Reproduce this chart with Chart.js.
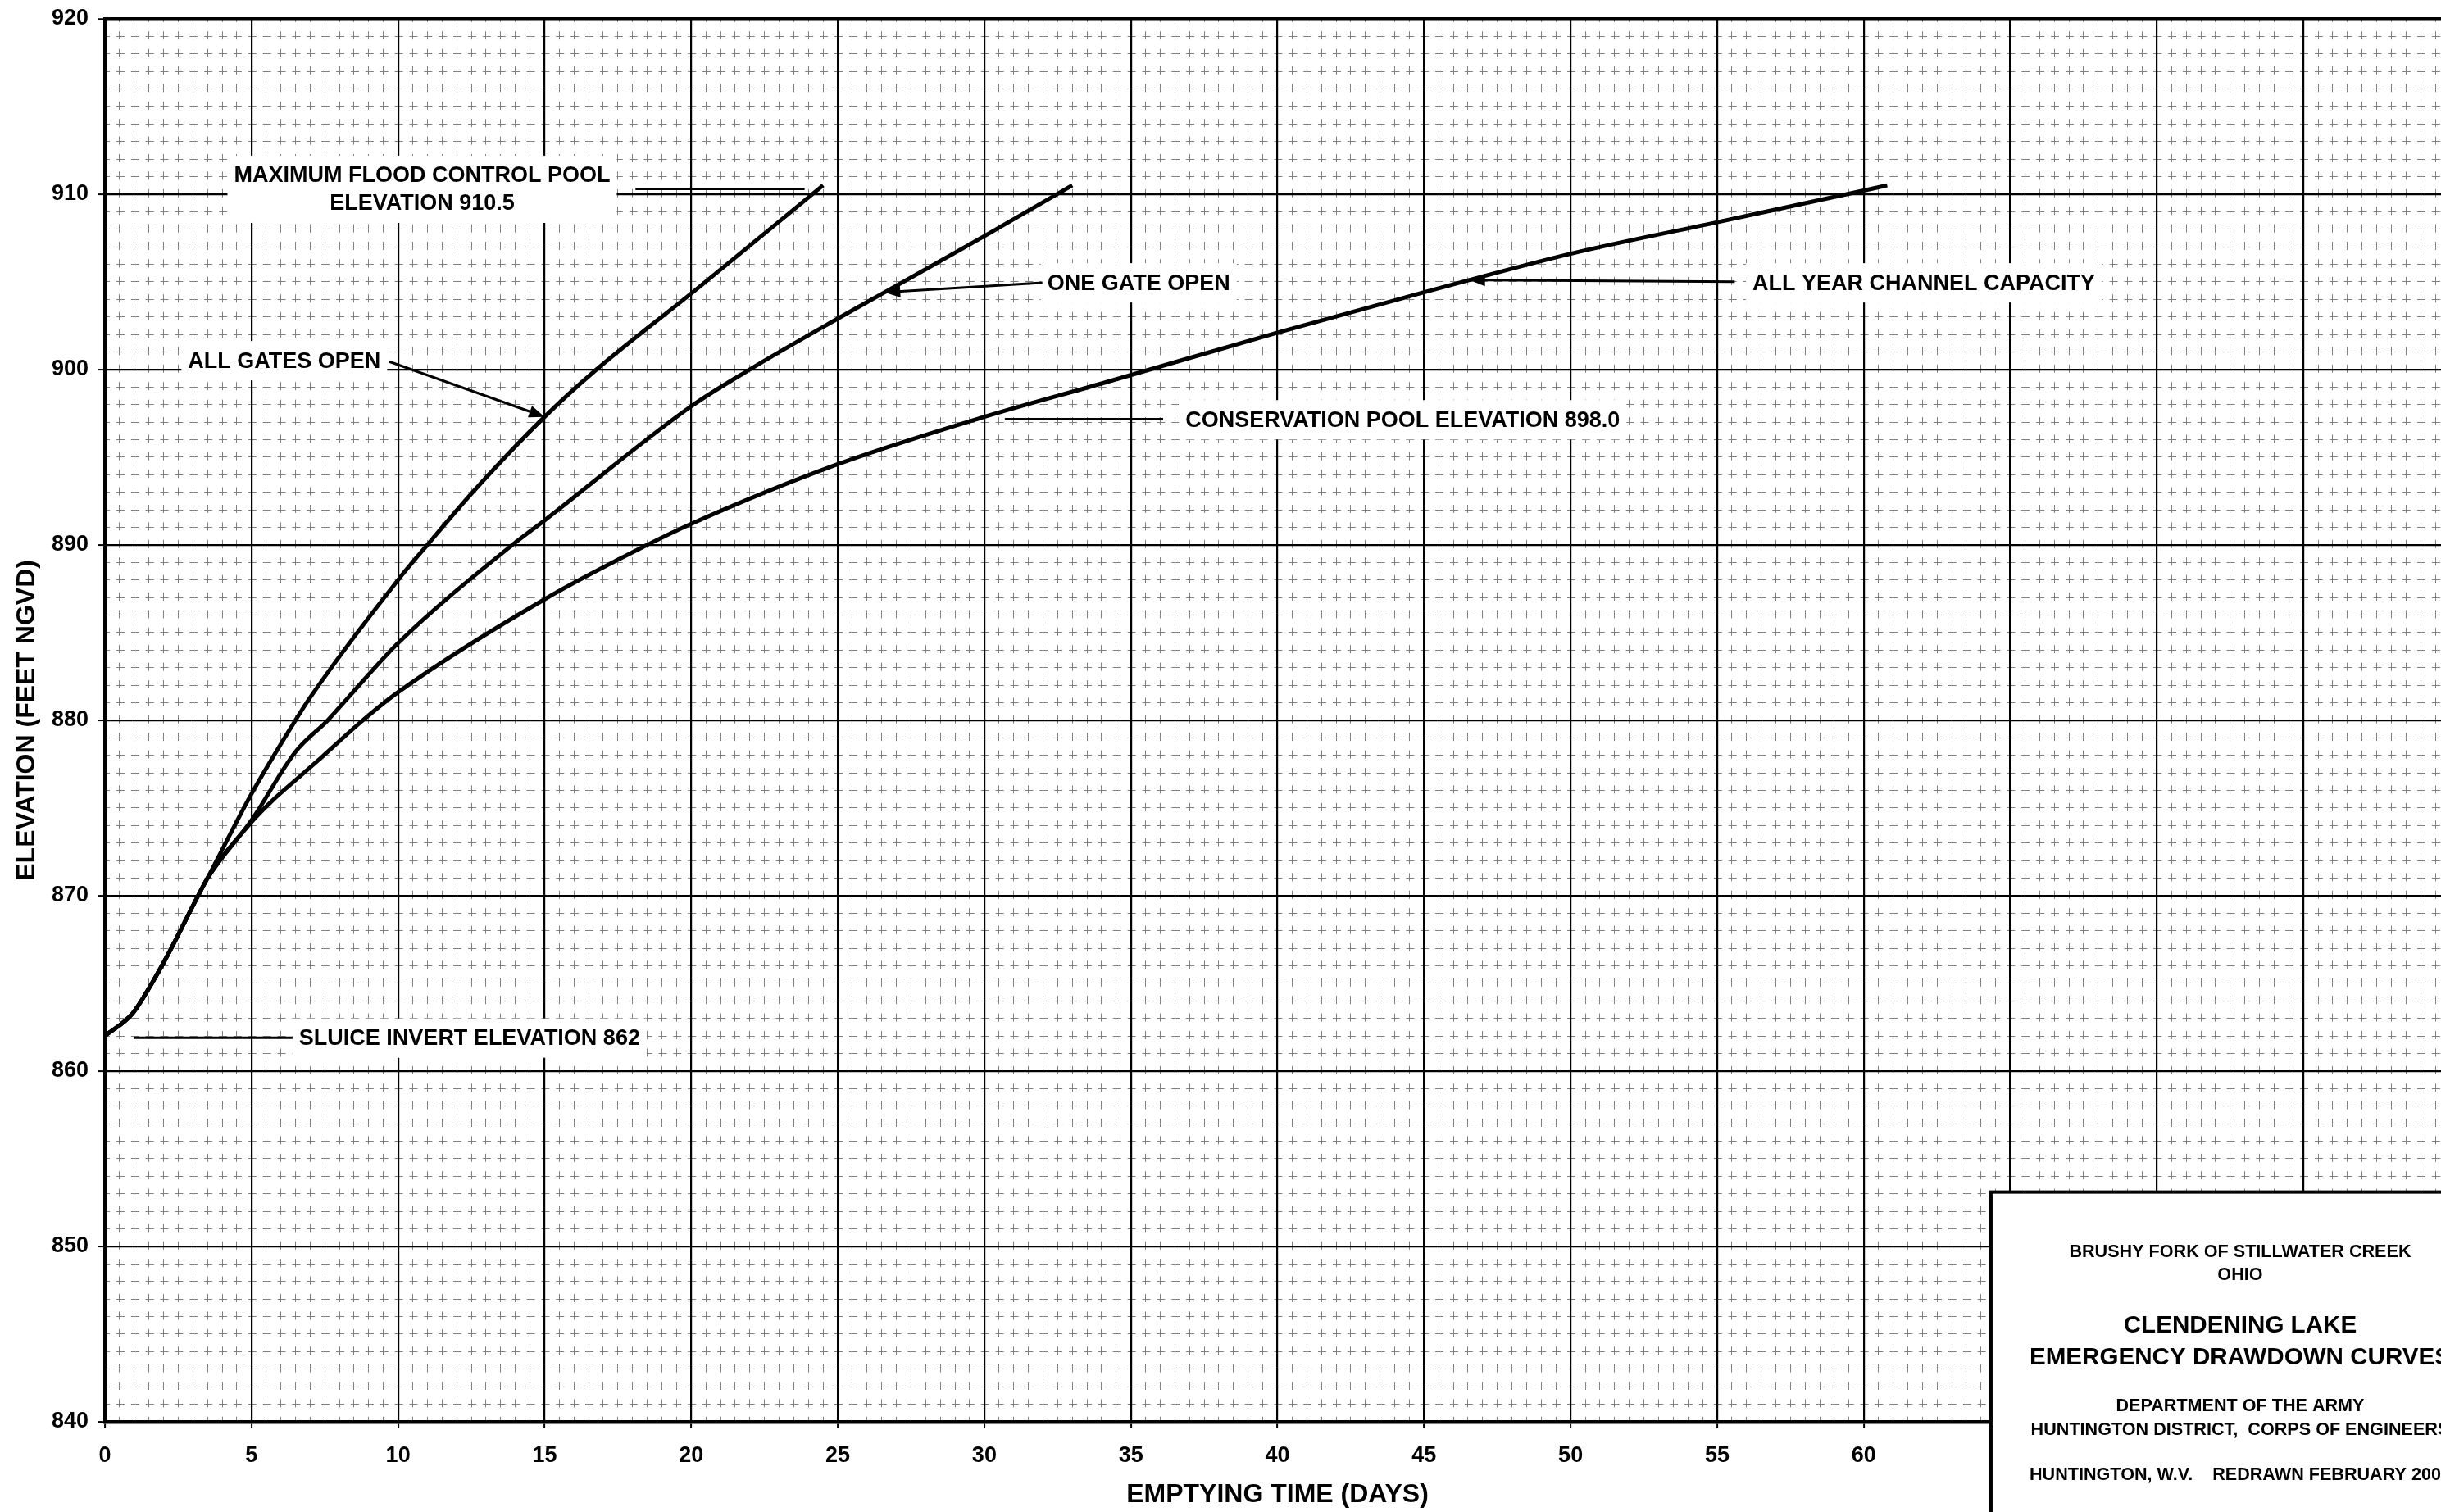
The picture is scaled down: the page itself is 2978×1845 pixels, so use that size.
<!DOCTYPE html>
<html>
<head>
<meta charset="utf-8">
<title>Clendening Lake - Emergency Drawdown Curves</title>
<script src="https://cdn.jsdelivr.net/npm/chart.js@4.4.0/dist/chart.umd.min.js"></script>
<style>
  html, body { margin: 0; padding: 0; background: #fff; overflow: hidden; }
  canvas { display: block; }
</style>
</head>
<body>
<canvas id="drawdown" width="3040" height="1845"></canvas>
<script>
// curves: emptying time (days) vs elevation (feet NGVD)
var allGatesDays = [0, 0.95, 1.6, 2.17, 3.18, 3.5, 5, 6.5, 7, 10, 11, 12.6, 15, 16.7, 20.2, 24.5];
var allGatesElev = [862, 863.3, 865, 866.7, 870, 871, 875.8, 880, 881.3, 888, 890, 893.1, 897.3, 899.9, 904.6, 910.5];

var oneGateDays = [0, 0.95, 1.6, 2.17, 3.18, 3.5, 5, 6.5, 7.6, 8.3, 10, 13.9, 15, 20, 22, 25, 26.6, 30, 33];
var oneGateElev = [862, 863.3, 865, 866.7, 870, 871, 874.3, 878.2, 880, 881.3, 884.4, 890, 891.4, 897.9, 900, 902.9, 904.4, 907.6, 910.5];

var channelDays = [0, 0.95, 1.6, 2.17, 3.18, 3.5, 5, 5.7, 6.65, 7.4, 8.8, 10, 15, 18.5, 20, 25, 30, 34, 40, 45, 50, 55, 60, 60.8];
var channelElev = [862, 863.3, 865, 866.7, 870, 871, 874.2, 875.4, 876.8, 877.9, 880, 881.6, 886.9, 890, 891.2, 894.6, 897.3, 899.2, 902.1, 904.4, 906.6, 908.4, 910.2, 910.5];

// axis ranges
var dayRange = [0, 80];
var elevRange = [840, 920];

// labels on the sheet (anchored in days / feet)
var callouts = [
  { lines: ["MAXIMUM FLOOD CONTROL POOL", "ELEVATION 910.5"], day: 10.82, elev: [911.07, 909.48] },
  { lines: ["ALL GATES OPEN"], day: 6.12, elev: [900.5] },
  { lines: ["ONE GATE OPEN"], day: 35.27, elev: [904.94] },
  { lines: ["ALL YEAR CHANNEL CAPACITY"], day: 62.05, elev: [904.94] },
  { lines: ["CONSERVATION POOL ELEVATION 898.0"], day: 44.27, elev: [897.13] },
  { lines: ["SLUICE INVERT ELEVATION 862"], day: 12.44, elev: [861.88] }
];
var leaders = [
  { from: [18.1, 910.3], to: [23.87, 910.3], arrow: false },
  { from: [9.7, 900.45], to: [15, 897.3], arrow: true },
  { from: [31.98, 904.94], to: [26.6, 904.4], arrow: true },
  { from: [55.6, 905.0], to: [46.55, 905.1], arrow: true },
  { from: [30.7, 897.17], to: [36.1, 897.17], arrow: false },
  { from: [0.98, 861.9], to: [6.4, 861.9], arrow: false }
];
var titleLines = [
  { text: "BRUSHY FORK OF STILLWATER CREEK", size: 21.6, dy: 73 },
  { text: "OHIO", size: 21.6, dy: 101 },
  { text: "CLENDENING LAKE", size: 29.6, dy: 163 },
  { text: "EMERGENCY DRAWDOWN CURVES", size: 29.6, dy: 202 },
  { text: "DEPARTMENT OF THE ARMY", size: 21.6, dy: 261 },
  { text: "HUNTINGTON DISTRICT,  CORPS OF ENGINEERS", size: 21.6, dy: 290 },
  { text: "HUNTINGTON, W.V.    REDRAWN FEBRUARY 2002", size: 21.6, dy: 345 }
];
var titleCorner = [64.34, 853.1];

var FONT = '"Liberation Sans", Arial, Helvetica, sans-serif';

function toPoints(days, elev) {
  return days.map(function (d, i) { return { x: d, y: elev[i] }; });
}

function curve(label, days, elev) {
  return {
    label: label,
    data: toPoints(days, elev),
    borderColor: "#000",
    borderWidth: 5,
    pointRadius: 0,
    fill: false,
    cubicInterpolationMode: "monotone"
  };
}

var calloutPlugin = {
  id: "callouts",
  beforeDatasetsDraw: function (chart) {
    var ctx = chart.ctx;
    var xs = chart.scales.x, ys = chart.scales.y;
    ctx.save();
    ctx.font = "bold 27px " + FONT;
    ctx.textAlign = "center";
    ctx.textBaseline = "middle";
    callouts.forEach(function (c) {
      var cx = xs.getPixelForValue(c.day);
      var py = c.elev.map(function (e) { return ys.getPixelForValue(e); });
      var w = 0;
      c.lines.forEach(function (t) { w = Math.max(w, ctx.measureText(t).width); });
      ctx.fillStyle = "#fff";
      ctx.fillRect(cx - w / 2 - 8, py[0] - 24, w + 16, py[py.length - 1] - py[0] + 48);
      ctx.fillStyle = "#000";
      c.lines.forEach(function (t, i) { ctx.fillText(t, cx, py[i] + 1); });
    });

    ctx.strokeStyle = "#000";
    ctx.fillStyle = "#000";
    ctx.lineWidth = 3;
    leaders.forEach(function (l) {
      var x1 = xs.getPixelForValue(l.from[0]), y1 = ys.getPixelForValue(l.from[1]);
      var x2 = xs.getPixelForValue(l.to[0]), y2 = ys.getPixelForValue(l.to[1]);
      var a = Math.atan2(y2 - y1, x2 - x1);
      var len = l.arrow ? 16 : 0;
      ctx.beginPath();
      ctx.moveTo(x1, y1);
      ctx.lineTo(x2 - len * Math.cos(a), y2 - len * Math.sin(a));
      ctx.stroke();
      if (l.arrow) {
        ctx.beginPath();
        ctx.moveTo(x2, y2);
        ctx.lineTo(x2 - 19 * Math.cos(a) + 7.5 * Math.sin(a), y2 - 19 * Math.sin(a) - 7.5 * Math.cos(a));
        ctx.lineTo(x2 - 19 * Math.cos(a) - 7.5 * Math.sin(a), y2 - 19 * Math.sin(a) + 7.5 * Math.cos(a));
        ctx.closePath();
        ctx.fill();
      }
    });
    ctx.restore();
  },
  afterDraw: function (chart) {
    // title block in the lower right corner
    var ctx = chart.ctx;
    var left = chart.scales.x.getPixelForValue(titleCorner[0]);
    var top = chart.scales.y.getPixelForValue(titleCorner[1]);
    var cx = left + 304;
    ctx.save();
    ctx.fillStyle = "#fff";
    ctx.fillRect(left, top, 700, 600);
    ctx.strokeStyle = "#000";
    ctx.lineWidth = 4;
    ctx.strokeRect(left, top, 700, 600);
    ctx.fillStyle = "#000";
    ctx.textAlign = "center";
    ctx.textBaseline = "middle";
    titleLines.forEach(function (t) {
      ctx.font = "bold " + t.size + "px " + FONT;
      ctx.fillText(t.text, cx, top + t.dy);
    });
    ctx.restore();
  }
};

var tickFont = { family: FONT, size: 27, weight: "bold", lineHeight: 0.8 };
var titleFont = { family: FONT, size: 32, weight: "bold" };

new Chart(document.getElementById("drawdown"), {
  type: "line",
  data: {
    datasets: [
      curve("All gates open", allGatesDays, allGatesElev),
      curve("One gate open", oneGateDays, oneGateElev),
      curve("All year channel capacity", channelDays, channelElev)
    ]
  },
  options: {
    responsive: false,
    animation: false,
    devicePixelRatio: 1,
    layout: { padding: { top: 22, right: 51, left: 0, bottom: 0 } },
    plugins: {
      legend: { display: false },
      tooltip: { enabled: false }
    },
    scales: {
      xMinor: {
        type: "linear", position: "bottom", min: dayRange[0], max: dayRange[1],
        ticks: { display: false, stepSize: 0.5 },
        grid: { color: "#808080", lineWidth: 1, drawTicks: false },
        border: { display: false, dash: [10, 11.4], dashOffset: 6 },
        afterFit: function (s) { s.height = 0; }
      },
      yMinor: {
        type: "linear", position: "left", min: elevRange[0], max: elevRange[1],
        ticks: { display: false, stepSize: 1 },
        grid: { color: "#808080", lineWidth: 1, drawTicks: false },
        border: { display: false, dash: [10, 7.88], dashOffset: 4 },
        afterFit: function (s) { s.width = 0; }
      },
      x: {
        type: "linear", position: "bottom", min: dayRange[0], max: dayRange[1],
        ticks: { stepSize: 5, color: "#000", font: tickFont, padding: 23, maxRotation: 0, autoSkip: false },
        grid: { color: "#000", lineWidth: 2.2, tickLength: 8, tickColor: "#000", tickWidth: 2 },
        border: { display: true, color: "#000", width: 4.5 },
        title: { display: true, text: "EMPTYING TIME (DAYS)", color: "#000", font: titleFont, padding: { top: 0, bottom: 2 } },
        afterFit: function (s) { s.height = 110; }
      },
      y: {
        type: "linear", position: "left", min: elevRange[0], max: elevRange[1],
        ticks: { stepSize: 10, color: "#000", font: tickFont, padding: 12, autoSkip: false },
        grid: {
          color: "#000",
          lineWidth: function (c) { return c.tick && c.tick.value === elevRange[1] ? 4.5 : 2.2; },
          tickLength: 8, tickColor: "#000", tickWidth: 2
        },
        border: { display: true, color: "#000", width: 4.5 },
        title: { display: true, text: "ELEVATION (FEET NGVD)", color: "#000", font: titleFont, padding: { top: 14, bottom: 0 } },
        afterFit: function (s) { s.width = 128; }
      }
    }
  },
  plugins: [calloutPlugin]
});
</script>
</body>
</html>
